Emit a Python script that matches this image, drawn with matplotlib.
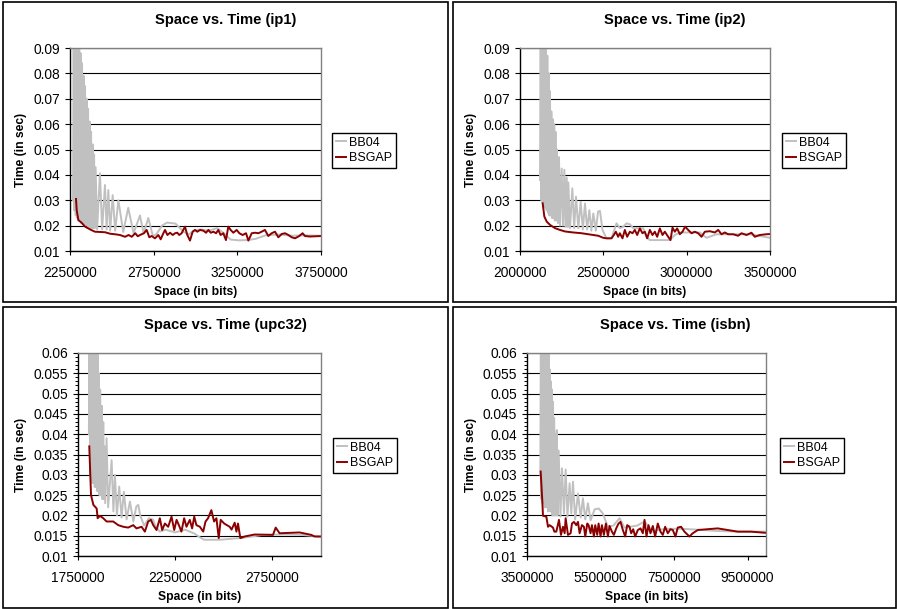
import matplotlib
matplotlib.use("Agg")
import numpy as np
import matplotlib.pyplot as plt
from matplotlib.patches import Rectangle
from matplotlib.ticker import MultipleLocator

plt.rcParams["font.family"] = ["Liberation Sans", "DejaVu Sans"]
plt.rcParams["path.simplify"] = False

W, H = 897, 609
GRAY = "#c0c0c0"
RED = "#8b0000"

# ---------------- ip1 ----------------
ip1_bb04_x = [2268000, 2272000, 2276000, 2280000, 2284000, 2289000, 2293000, 2297000, 2301000, 2305000,
              2309000, 2313000, 2317000, 2322000, 2326000, 2331000, 2335000, 2340000, 2344000, 2349000,
              2353000, 2358000, 2362000, 2367000, 2371000, 2376000, 2380000, 2385000, 2389000, 2394000,
              2398000, 2403000, 2412000, 2429000, 2442000, 2459000, 2469000, 2479000, 2490000, 2505000,
              2520000, 2539000, 2568000, 2598000, 2630000, 2668000, 2690000, 2718000, 2745000, 2765000,
              2800000, 2830000, 2880000, 2930000, 2960000, 2990000, 3030000, 3080000, 3130000, 3170000,
              3210000, 3260000, 3310000, 3360000, 3420000, 3500000, 3580000, 3650000, 3750000]
ip1_bb04_y = [0.030, 0.100, 0.026, 0.100, 0.024, 0.098, 0.023, 0.096, 0.022, 0.093,
              0.022, 0.088, 0.021, 0.084, 0.021, 0.079, 0.020, 0.075, 0.020, 0.070,
              0.020, 0.066, 0.019, 0.061, 0.019, 0.057, 0.019, 0.052, 0.019, 0.048,
              0.019, 0.043, 0.0185, 0.0406, 0.0185, 0.036, 0.0185, 0.034, 0.018, 0.032,
              0.018, 0.030, 0.0175, 0.027, 0.017, 0.024, 0.017, 0.023, 0.016, 0.0165,
              0.020, 0.0212, 0.0208, 0.0175, 0.0165, 0.018, 0.0185, 0.018, 0.019, 0.017,
              0.0145, 0.0142, 0.0143, 0.0148, 0.0162, 0.0165, 0.016, 0.0162, 0.016]
ip1_bsgap_x = [2286000, 2290000, 2300000, 2320000, 2340000, 2370000, 2399000, 2430000, 2459000, 2490000,
               2519000, 2549000, 2579000, 2600000, 2619000, 2640000, 2655000, 2668000, 2692000, 2708000,
               2724000, 2738000, 2758000, 2778000, 2792000, 2808000, 2818000, 2832000, 2848000, 2864000,
               2878000, 2891000, 2903000, 2917000, 2937000, 2951000, 2967000, 2983000, 2997000, 3011000,
               3027000, 3047000, 3063000, 3077000, 3091000, 3107000, 3123000, 3136000, 3150000, 3166000,
               3182000, 3196000, 3210000, 3226000, 3246000, 3262000, 3282000, 3302000, 3316000, 3336000,
               3356000, 3376000, 3395000, 3415000, 3435000, 3455000, 3475000, 3495000, 3515000, 3535000,
               3555000, 3575000, 3595000, 3620000, 3640000, 3654000, 3684000, 3750000]
ip1_bsgap_y = [0.0305, 0.0261, 0.0222, 0.0211, 0.0196, 0.0185, 0.0176, 0.0175, 0.0174, 0.0168,
               0.0166, 0.0163, 0.0156, 0.0163, 0.0156, 0.0170, 0.0158, 0.0163, 0.0170, 0.0183,
               0.0154, 0.0159, 0.0150, 0.0163, 0.0146, 0.0170, 0.0183, 0.0163, 0.0172, 0.0163,
               0.0170, 0.0172, 0.0163, 0.0170, 0.0196, 0.0163, 0.0141, 0.0176, 0.0183, 0.0176,
               0.0183, 0.0180, 0.0172, 0.0183, 0.0172, 0.0176, 0.0170, 0.0183, 0.0163, 0.0170,
               0.0143, 0.0196, 0.0183, 0.0172, 0.0183, 0.0170, 0.0163, 0.0170, 0.0141, 0.0170,
               0.0172, 0.0170, 0.0176, 0.0183, 0.0159, 0.0170, 0.0176, 0.0154, 0.0167, 0.0170,
               0.0163, 0.0154, 0.0150, 0.0159, 0.0170, 0.0159, 0.0157, 0.0159]

# ---------------- ip2 ----------------
ip2_bb04_x = [2120000, 2124000, 2128000, 2132000, 2136000, 2140000, 2144000, 2148000, 2152000, 2156000,
              2160000, 2164000, 2168000, 2172000, 2176000, 2180000, 2184000, 2188000, 2192000, 2196000,
              2200000, 2205000, 2209000, 2213000, 2217000, 2222000, 2228000, 2234000, 2240000, 2250000,
              2258000, 2266000, 2273000, 2280000, 2285000, 2290000, 2300000, 2314000, 2325000, 2336000,
              2350000, 2364000, 2377000, 2390000, 2403000, 2416000, 2428000, 2440000, 2455000, 2468000,
              2480000, 2495000, 2519000, 2549000, 2579000, 2599000, 2619000, 2639000, 2660000, 2679000,
              2739000, 2759000, 2779000, 2899000, 2929000, 2959000, 3079000, 3119000, 3179000, 3379000,
              3500000]
ip2_bb04_y = [0.038, 0.100, 0.030, 0.100, 0.029, 0.100, 0.028, 0.098, 0.027, 0.094,
              0.026, 0.087, 0.025, 0.080, 0.024, 0.073, 0.024, 0.065, 0.023, 0.062,
              0.023, 0.060, 0.022, 0.057, 0.022, 0.050, 0.021, 0.047, 0.020, 0.0425,
              0.020, 0.042, 0.0195, 0.039, 0.0195, 0.037, 0.019, 0.0347, 0.019, 0.0314,
              0.019, 0.0294, 0.0185, 0.0287, 0.0185, 0.0261, 0.018, 0.0248, 0.018, 0.0255,
              0.0258, 0.0183, 0.015, 0.015, 0.0209, 0.019, 0.0195, 0.0209, 0.0205, 0.019,
              0.019, 0.0156, 0.0143, 0.0143, 0.0163, 0.0173, 0.0173, 0.0152, 0.0166, 0.0166,
              0.0152]
ip2_bsgap_x = [2136000, 2146000, 2160000, 2180000, 2210000, 2240000, 2270000, 2320000, 2370000, 2400000,
               2430000, 2470000, 2499000, 2519000, 2549000, 2563000, 2575000, 2589000, 2599000, 2615000,
               2629000, 2643000, 2659000, 2675000, 2689000, 2703000, 2719000, 2735000, 2749000, 2763000,
               2779000, 2795000, 2809000, 2823000, 2839000, 2855000, 2869000, 2889000, 2903000, 2915000,
               2929000, 2943000, 2959000, 2975000, 2991000, 3009000, 3029000, 3049000, 3069000, 3089000,
               3109000, 3139000, 3169000, 3189000, 3209000, 3229000, 3249000, 3279000, 3309000, 3329000,
               3359000, 3389000, 3409000, 3438000, 3478000, 3500000]
ip2_bsgap_y = [0.0288, 0.0236, 0.0216, 0.0203, 0.0190, 0.0183, 0.0177, 0.0173, 0.0170, 0.0167,
               0.0164, 0.0160, 0.0152, 0.0150, 0.0150, 0.0163, 0.0176, 0.0156, 0.0170, 0.0150,
               0.0183, 0.0156, 0.0176, 0.0170, 0.0183, 0.0163, 0.0189, 0.0170, 0.0176, 0.0150,
               0.0183, 0.0163, 0.0176, 0.0156, 0.0189, 0.0163, 0.0176, 0.0156, 0.0143, 0.0192,
               0.0176, 0.0189, 0.0166, 0.0176, 0.0196, 0.0183, 0.0170, 0.0176, 0.0170, 0.0156,
               0.0176, 0.0178, 0.0173, 0.0183, 0.0166, 0.0173, 0.0166, 0.0166, 0.0160, 0.0170,
               0.0163, 0.0172, 0.0156, 0.0163, 0.0166, 0.0167]

# ---------------- upc32 ----------------
upc32_bb04_x = [1806000, 1809000, 1812000, 1815000, 1818000, 1821000, 1824000, 1827000, 1830000, 1833000,
                1836000, 1839000, 1842000, 1845000, 1848000, 1851000, 1854000, 1857000, 1860000, 1864000,
                1868000, 1872000, 1876000, 1880000, 1883000, 1886000, 1890000, 1897000, 1905000, 1923000,
                1932000, 1940000, 1950000, 1962000, 1974000, 1986000, 2000000, 2017000, 2035000, 2050000,
                2060000, 2070000, 2090000, 2115000, 2135000, 2150000, 2171000, 2200000, 2250000, 2300000,
                2350000, 2380000, 2400000, 2480000, 2600000, 2700000, 2800000, 2900000, 3000000]
upc32_bb04_y = [0.040, 0.065, 0.030, 0.065, 0.029, 0.065, 0.028, 0.065, 0.028, 0.065,
                0.027, 0.065, 0.027, 0.064, 0.026, 0.061, 0.026, 0.055, 0.025, 0.051,
                0.025, 0.047, 0.024, 0.043, 0.024, 0.037, 0.023, 0.039, 0.022, 0.0336,
                0.021, 0.030, 0.020, 0.0271, 0.0195, 0.0258, 0.019, 0.0234, 0.0185, 0.0222,
                0.0226, 0.020, 0.0175, 0.0193, 0.019, 0.0172, 0.0160, 0.0165, 0.0158, 0.0165,
                0.0155, 0.0145, 0.0140, 0.0140, 0.0145, 0.0152, 0.0153, 0.0152, 0.0148]
upc32_bsgap_x = [1808000, 1817000, 1829000, 1846000, 1851000, 1863000, 1880000, 1897000, 1931000, 1957000,
                 1983000, 2008000, 2034000, 2051000, 2077000, 2094000, 2111000, 2125000, 2137000, 2154000,
                 2171000, 2183000, 2197000, 2214000, 2231000, 2245000, 2257000, 2269000, 2282000, 2296000,
                 2308000, 2325000, 2337000, 2348000, 2359000, 2377000, 2394000, 2406000, 2419000, 2436000,
                 2450000, 2462000, 2474000, 2484000, 2502000, 2530000, 2540000, 2556000, 2565000, 2573000,
                 2585000, 2607000, 2659000, 2753000, 2767000, 2787000, 2890000, 2950000, 2967000, 3000000]
upc32_bsgap_y = [0.0370, 0.0250, 0.0226, 0.0217, 0.0193, 0.0199, 0.0193, 0.0185, 0.0185, 0.0176,
                 0.0172, 0.0170, 0.0176, 0.0168, 0.0172, 0.0160, 0.0185, 0.0189, 0.0176, 0.0164,
                 0.0193, 0.0164, 0.0180, 0.0172, 0.0197, 0.0164, 0.0189, 0.0176, 0.0160, 0.0193,
                 0.0172, 0.0189, 0.0168, 0.0197, 0.0176, 0.0172, 0.0160, 0.0185, 0.0193, 0.0213,
                 0.0185, 0.0193, 0.0144, 0.0189, 0.0180, 0.0172, 0.0165, 0.0182, 0.0160, 0.0180,
                 0.0144, 0.0148, 0.0153, 0.0152, 0.0170, 0.0156, 0.0158, 0.0152, 0.0148, 0.0148]

# ---------------- isbn ----------------
isbn_bb04_x = [3863000, 3878000, 3893000, 3908000, 3923000, 3938000, 3953000, 3968000, 3983000, 3998000,
               4013000, 4028000, 4043000, 4058000, 4073000, 4088000, 4103000, 4118000, 4133000, 4148000,
               4163000, 4178000, 4193000, 4208000, 4223000, 4238000, 4253000, 4270000, 4290000, 4310000,
               4330000, 4361000, 4410000, 4451000, 4505000, 4551000, 4600000, 4659000, 4705000, 4750000,
               4810000, 4886000, 4960000, 5020000, 5085000, 5157000, 5230000, 5340000, 5450000, 5560000,
               5700000, 5850000, 6017000, 6150000, 6300000, 6500000, 6695000, 6850000, 6922000, 7057000,
               7300000, 7700000, 8100000, 8600000, 9200000, 10000000]
isbn_bb04_y = [0.030, 0.070, 0.024, 0.070, 0.023, 0.070, 0.023, 0.070, 0.022, 0.070,
               0.022, 0.070, 0.022, 0.068, 0.021, 0.063, 0.021, 0.056, 0.021, 0.053,
               0.021, 0.051, 0.020, 0.048, 0.020, 0.044, 0.020, 0.040, 0.020, 0.041,
               0.020, 0.036, 0.0197, 0.0316, 0.0205, 0.0313, 0.0197, 0.0279, 0.0205, 0.0283,
               0.019, 0.0254, 0.0195, 0.0242, 0.019, 0.023, 0.0188, 0.0215, 0.0217, 0.0205,
               0.0172, 0.0175, 0.0193, 0.017, 0.0172, 0.0175, 0.0185, 0.0168, 0.0160, 0.0164,
               0.0167, 0.0167, 0.0165, 0.0162, 0.0160, 0.0160]
isbn_bsgap_x = [3872000, 3917000, 3935000, 4026000, 4071000, 4116000, 4207000, 4243000, 4297000, 4370000,
                4424000, 4478000, 4524000, 4551000, 4614000, 4686000, 4723000, 4777000, 4840000, 4886000,
                4931000, 4994000, 5048000, 5085000, 5139000, 5175000, 5229000, 5266000, 5320000, 5356000,
                5410000, 5447000, 5501000, 5537000, 5591000, 5646000, 5700000, 5745000, 5809000, 5863000,
                5926000, 5990000, 6044000, 6107000, 6171000, 6225000, 6288000, 6334000, 6388000, 6442000,
                6514000, 6587000, 6650000, 6696000, 6750000, 6804000, 6858000, 6922000, 6985000, 7057000,
                7130000, 7193000, 7257000, 7329000, 7401000, 7465000, 7537000, 7600000, 7691000, 7781000,
                7917000, 8008000, 8144000, 8415000, 8687000, 8958000, 9230000, 9591000, 10000000]
isbn_bsgap_y = [0.0308, 0.0234, 0.0199, 0.0197, 0.0172, 0.0176, 0.0170, 0.0160, 0.0160, 0.0189,
                0.0152, 0.0172, 0.0156, 0.0193, 0.0152, 0.0156, 0.0180, 0.0184, 0.0176, 0.0184,
                0.0156, 0.0176, 0.0172, 0.0148, 0.0180, 0.0176, 0.0156, 0.0176, 0.0148, 0.0176,
                0.0152, 0.0180, 0.0148, 0.0176, 0.0152, 0.0180, 0.0148, 0.0174, 0.0160, 0.0152,
                0.0168, 0.0180, 0.0184, 0.0164, 0.0148, 0.0176, 0.0172, 0.0156, 0.0166, 0.0148,
                0.0164, 0.0168, 0.0156, 0.0189, 0.0148, 0.0176, 0.0156, 0.0174, 0.0148, 0.0180,
                0.0160, 0.0152, 0.0172, 0.0156, 0.0166, 0.0164, 0.0148, 0.0170, 0.0172, 0.0160,
                0.0148, 0.0156, 0.0164, 0.0166, 0.0168, 0.0164, 0.0160, 0.0160, 0.0157]

ip1_xticks = [2250000, 2750000, 3250000, 3750000]
ip2_xticks = [2000000, 2500000, 3000000, 3500000]
upc32_xticks = [1750000, 2250000, 2750000]
isbn_xticks = [3500000, 5500000, 7500000, 9500000]

# layout in pixels: outer box, plot area, title / label centres, legend corner
panels = [
    dict(name="ip1", bb=(ip1_bb04_x, ip1_bb04_y), bs=(ip1_bsgap_x, ip1_bsgap_y),
         xlim=(2250000, 3750000), xticks=ip1_xticks, ylim=(0.01, 0.09), ystep=0.01, minor=False,
         box=(3, 2, 448, 302), ax=(70, 48, 321, 251), title=(225.5, 20), xlab=(195.5, 292),
         ylab=(21, 149.5), leg=(332, 133)),
    dict(name="ip2", bb=(ip2_bb04_x, ip2_bb04_y), bs=(ip2_bsgap_x, ip2_bsgap_y),
         xlim=(2000000, 3500000), xticks=ip2_xticks, ylim=(0.01, 0.09), ystep=0.01, minor=False,
         box=(453, 2, 896, 302), ax=(520, 48, 770, 251), title=(674.5, 20), xlab=(645, 292),
         ylab=(471, 149.5), leg=(782, 133)),
    dict(name="upc32", bb=(upc32_bb04_x, upc32_bb04_y), bs=(upc32_bsgap_x, upc32_bsgap_y),
         xlim=(1750000, 3000000), xticks=upc32_xticks, ylim=(0.01, 0.06), ystep=0.005, minor=True,
         box=(3, 307, 448, 608), ax=(78, 353, 321, 556), title=(225.5, 325), xlab=(199.5, 597),
         ylab=(21, 454.5), leg=(333, 438)),
    dict(name="isbn", bb=(isbn_bb04_x, isbn_bb04_y), bs=(isbn_bsgap_x, isbn_bsgap_y),
         xlim=(3500000, 10000000), xticks=isbn_xticks, ylim=(0.01, 0.06), ystep=0.005, minor=True,
         box=(453, 307, 896, 608), ax=(527, 353, 766, 556), title=(675.5, 325), xlab=(646.5, 597),
         ylab=(471, 454.5), leg=(780, 438)),
]


def px_rect(x0, y0, x1, y1):
    return [x0 / W, 1 - y1 / H, (x1 - x0) / W, (y1 - y0) / H]


fig = plt.figure(figsize=(W / 100, H / 100), dpi=100)

for p in panels:
    bx0, by0, bx1, by1 = p["box"]
    fig.add_artist(Rectangle((bx0 / W, 1 - by1 / H), (bx1 - bx0) / W, (by1 - by0) / H,
                             transform=fig.transFigure, fill=False, ec="black", lw=1.2))

    ax = fig.add_axes(px_rect(*p["ax"]))
    ax.plot(p["bb"][0], p["bb"][1], color=GRAY, lw=1.4, label="BB04")
    ax.plot(p["bs"][0], p["bs"][1], color=RED, lw=1.4, label="BSGAP")

    ax.set_xlim(*p["xlim"])
    ax.set_xticks(p["xticks"])
    ax.set_xticklabels([str(v) for v in p["xticks"]])
    yt = np.round(np.arange(p["ylim"][0], p["ylim"][1] + 1e-9, p["ystep"]), 3)
    ax.set_ylim(*p["ylim"])
    ax.set_yticks(yt)
    ax.set_yticklabels(["%g" % v for v in yt])
    if p["minor"]:
        ax.yaxis.set_minor_locator(MultipleLocator(0.001))
        ax.tick_params(axis="y", which="minor", direction="out", length=2.5, width=0.7)

    ax.yaxis.grid(True, color="black", lw=0.8)
    ax.set_axisbelow(True)
    for side in ["left", "bottom"]:
        ax.spines[side].set_color("black")
        ax.spines[side].set_linewidth(1.0)
    for side in ["top", "right"]:
        ax.spines[side].set_color("#808080")
        ax.spines[side].set_linewidth(1.0)
    ax.tick_params(axis="x", direction="out", length=3, width=0.8, labelsize=9.9, pad=7.5)
    ax.tick_params(axis="y", which="major", direction="out", length=3.6, width=0.8, labelsize=9.9, pad=3.6)

    fig.text(p["title"][0] / W, 1 - p["title"][1] / H, "Space vs. Time (%s)" % p["name"],
             ha="center", va="center", fontsize=10.6, fontweight="bold")
    fig.text(p["xlab"][0] / W, 1 - p["xlab"][1] / H, "Space (in bits)",
             ha="center", va="center", fontsize=8.7, fontweight="bold")
    fig.text(p["ylab"][0] / W, 1 - p["ylab"][1] / H, "Time (in sec)", rotation=90,
             ha="center", va="center", fontsize=8.7, fontweight="bold")

    leg = ax.legend(loc="upper left", bbox_to_anchor=(p["leg"][0] / W, 1 - p["leg"][1] / H),
                    bbox_transform=fig.transFigure, borderaxespad=0, fontsize=9,
                    fancybox=False, edgecolor="black", framealpha=1,
                    handlelength=0.8, handletextpad=0.25, borderpad=0.3, labelspacing=0.25)
    leg.get_frame().set_linewidth(1.0)

fig.savefig("out.png", dpi=100)
